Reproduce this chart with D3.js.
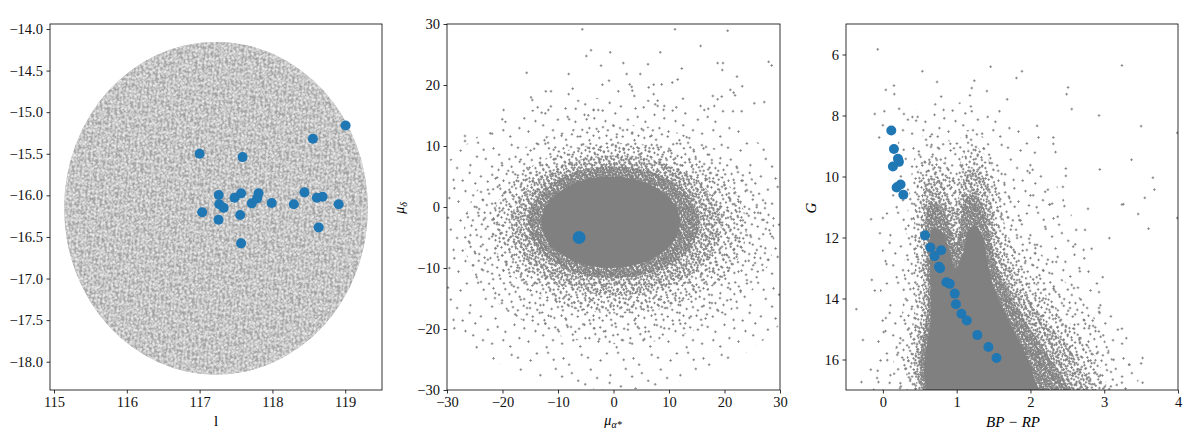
<!DOCTYPE html>
<html><head><meta charset="utf-8">
<script src="https://cdn.jsdelivr.net/npm/d3@7"></script>
<style>
body{margin:0;background:#fff}
svg text{font-family:"Liberation Serif","DejaVu Serif",serif;}
</style>
</head><body>
<svg id="c" width="1200" height="440"></svg>
<script>
// ---------------- DATA ----------------
// Panel 1: sky field (galactic l, b) and cluster members
const fieldCenterL = 117.225, fieldCenterB = -16.155;
const fieldHalfWidthL = 2.085, fieldHalfWidthB = 2.0;
const memberL = [117.00,117.59,119.005,118.556,117.035,117.263,117.27,117.33,117.26,117.48,117.57,117.557,117.717,117.81,117.79,117.99,118.294,118.44,118.61,118.688,118.91,118.635,117.57];
const memberB = [-15.50,-15.54,-15.16,-15.32,-16.204,-15.996,-16.108,-16.148,-16.293,-16.028,-15.976,-16.236,-16.096,-15.976,-16.036,-16.092,-16.108,-15.964,-16.028,-16.016,-16.108,-16.385,-16.577];
const lTicks = [115,116,117,118,119];
const bTicks = [-14.0,-14.5,-15.0,-15.5,-16.0,-16.5,-17.0,-17.5,-18.0];

// Panel 2: proper motions
const memberPmra = [-6.2];
const memberPmdec = [-5.0];
const pmOutlierRa = [-5.62,11.08,20.57,15.7,-4.05,-4.9,-0.58,8.43,-2.25,1.77,6.22,12.3,18.77,19.73,19.6,27.96,28.5,-15.64,-8.07,2.38,4.83,22.25,-2.0,-0.81,2.92,3.28,6.34,7.24,8.68,10.6,11.57,23.2,-12.2,-11.26,-8.07,-7.35,0.87,3.39,3.75,7.24,21.05,21.65,21.9,19.5,17.9,18.77,-14.86,-14.63,12.52,7.96,7.96,9.15,5.44,11.32,15.7,16.36,17.08,18.16,19.73,21.53,23.1,25.37,27.17,-19.8,-20.04,-13.66,-12.94,-11.74,-6.81,-3.57,-2.74,-4.54,-4.83,-8.0,-26.76,-26.76,-22.2,-24.6];
const pmOutlierDec = [29.13,29.13,28.9,26.4,25.7,24.75,25.36,25.36,23.17,23.6,23.4,22.7,23.6,23.6,22.46,23.8,23.2,22.0,21.8,21.8,21.8,21.37,20.05,20.7,20.1,19.7,19.6,20.05,20.1,20.4,20.9,19.8,18.97,18.97,18.5,19.4,18.97,19.07,18.2,18.5,19.2,18.74,18.3,18.1,18.2,17.66,17.98,17.54,17.75,17.43,16.56,16.56,16.34,16.34,16.56,15.9,16.1,16.56,15.7,15.7,15.7,17.0,17.2,15.9,14.38,16.34,15.46,15.9,16.1,15.9,15.9,15.03,14.38,14.38,11.64,10.82,12.08,8.25];
// density contours of the field-star cloud (ellipses), sparse -> solid
const pmLevelCx = [0, 1, 1, 0.5, 0, -0.5];
const pmLevelCy = [-6, -4.5, -3.5, -3, -2.5, -2.5];
const pmLevelRx = [36, 28, 23, 19, 15.5, 12.5];
const pmLevelRy = [24, 18, 14, 11.5, 9.2, 7.5];
const pmTicks = [-30,-20,-10,0,10,20,30];

// Panel 3: colour-magnitude diagram
const memberColor = [0.114,0.15,0.204,0.217,0.136,0.24,0.186,0.277,0.571,0.644,0.79,0.70,0.76,0.775,0.86,0.906,0.974,0.99,1.065,1.137,1.28,1.43,1.54];
const memberG = [8.49,9.1,9.42,9.52,9.67,10.26,10.36,10.6,11.93,12.33,12.42,12.61,12.96,13.01,13.47,13.52,13.84,14.19,14.5,14.72,15.2,15.59,15.95];
const cmdOutlierColor = [-0.07,0.535,0.734,1.46,1.885,1.81,3.24,1.24,1.205,0.04,0.15,0.155,0.79,1.18,1.41,1.685,2.51,2.49,2.56,-0.11,0.02,0.22,0.285,1.205,1.58,2.93,3.5,3.99,-0.05,0.0,0.4,0.45,2.09,2.11,2.31,2.31,2.34,2.06,3.37,2.94,3.66,3.68,3.55,3.26,2.48,2.48,2.44,2.2,2.26,2.0,2.03,1.96,3.24,3.46,3.6,3.07,3.99,2.78,2.98,3.24,3.3,3.52,3.5,3.34,3.52,3.24,2.74,2.62,2.83,2.58,2.67,2.93,2.93,2.93,2.59,2.8,2.85,2.32,2.35,2.3,2.09,2.06,1.85,2.2,2.26,2.46,2.37,1.98,-0.36,-0.27,-0.29,-0.15,-0.11,-0.16,0.0,-0.04,-0.07,-0.06,0.06,0.01,0.04,0.05];
const cmdOutlierG = [5.83,6.55,6.9,6.4,6.55,6.77,6.36,6.86,7.1,7.16,7.02,7.3,7.38,7.34,7.2,7.47,7.08,7.3,7.79,7.95,7.86,7.78,7.95,7.86,7.86,8.0,8.35,8.57,8.72,8.32,8.05,8.17,8.34,8.72,8.72,8.93,9.2,9.22,9.45,9.77,10.04,10.43,10.7,10.91,9.74,9.98,10.34,10.5,10.92,10.62,9.78,9.82,10.92,11.23,11.71,12.02,11.36,11.06,13.3,14.99,15.3,15.95,16.13,16.17,16.76,16.76,11.75,11.75,12.37,12.3,13.11,13.79,14.31,14.44,13.66,14.9,14.9,13.72,12.8,12.8,12.24,12.24,11.43,11.65,10.92,10.97,11.32,10.95,14.35,15.36,16.74,13.39,13.74,11.4,11.36,11.86,16.37,16.74,16.02,15.1,14.64,12.87];
// density contours of the field-star CMD ([BP-RP, G]), sparse -> solid
const cmdLevel0 = [[-0.1,17.1],[-0.05,14.5],[0.0,12],[0.15,9.5],[0.35,8.0],[0.7,7.6],[1.1,7.6],[1.5,8.0],[2.0,8.8],[2.4,10.5],[2.8,12.5],[3.2,14.5],[3.4,17.1]];
const cmdLevel1 = [[0.22,17.1],[0.26,14.5],[0.3,12.5],[0.36,10.5],[0.45,9.2],[0.6,8.5],[0.8,8.6],[1.0,9.0],[1.1,8.5],[1.3,8.6],[1.55,9.3],[1.75,10.5],[1.95,11.8],[2.3,13],[2.75,14.2],[3.0,15.3],[3.15,17.1]];
const cmdLevel2 = [[0.42,17.1],[0.44,14],[0.42,12],[0.45,10.5],[0.52,9.6],[0.7,9.3],[0.88,9.7],[1.0,10.0],[1.08,9.3],[1.22,9.0],[1.42,9.4],[1.56,10.4],[1.68,11.8],[1.9,12.9],[2.25,14.0],[2.6,15.0],[2.9,16.0],[3.0,17.1]];
const cmdLevel3 = [[0.53,17.1],[0.54,14],[0.52,12.2],[0.52,11.0],[0.58,10.2],[0.72,10.0],[0.85,10.4],[0.95,11.0],[1.02,10.7],[1.08,10.0],[1.2,9.7],[1.36,10.0],[1.48,11.0],[1.58,12.2],[1.78,13.3],[2.1,14.4],[2.45,15.4],[2.7,16.3],[2.85,17.1]];
const cmdLevel4 = [[0.6,17.1],[0.61,14],[0.59,12.3],[0.58,11.3],[0.65,10.8],[0.8,11.0],[0.92,11.7],[0.99,12.2],[1.05,11.6],[1.1,10.8],[1.22,10.6],[1.36,11.0],[1.45,11.9],[1.55,13.0],[1.75,14.0],[2.0,15.0],[2.25,15.9],[2.45,16.6],[2.55,17.1]];
const cmdLevel5 = [[0.64,17.1],[0.65,14.5],[0.64,13],[0.63,12.2],[0.68,11.7],[0.8,11.8],[0.9,12.4],[0.98,13.0],[1.08,12.6],[1.15,11.8],[1.25,11.6],[1.35,12.0],[1.42,12.8],[1.5,13.6],[1.62,14.3],[1.78,15.1],[1.95,15.9],[2.05,16.6],[2.1,17.1]];
const colorTicks = [0,1,2,3,4];
const gTicks = [6,8,10,12,14,16];

// ---------------- DRAWING ----------------
const svg = d3.select('#c');
const defs = svg.append('defs');
const GRAY = '#808080', BLUE = '#1f77b4';

// stipple texture (style only)
const tex = [[0.05,0.12],[0.31,0.07],[0.58,0.15],[0.83,0.04],[0.17,0.33],[0.44,0.28],[0.72,0.36],[0.94,0.27],[0.08,0.55],[0.36,0.49],[0.61,0.58],[0.87,0.52],[0.22,0.74],[0.49,0.69],[0.76,0.79],[0.97,0.71],[0.03,0.91],[0.29,0.95],[0.55,0.88],[0.81,0.96],[0.13,0.21],[0.67,0.05],[0.40,0.11],[0.91,0.14],[0.26,0.44],[0.53,0.40],[0.79,0.62],[0.11,0.67],[0.42,0.83],[0.65,0.73],[0.90,0.86],[0.19,0.86],[0.71,0.47],[0.03,0.38],[0.48,0.57],[0.35,0.64]];
function plus(x,y){return `M${x-1.3},${y}h2.6M${x},${y-1.3}v2.6`;}
const tileSizes = [70,45,30,20,13];
const tileOffsets = [[0,0],[13,7],[5,11],[3,2],[7,5]];
tileSizes.forEach((s,i)=>{
  const p = defs.append('pattern').attr('id','st'+i).attr('patternUnits','userSpaceOnUse')
    .attr('width',s).attr('height',s).attr('x',tileOffsets[i][0]).attr('y',tileOffsets[i][1]);
  p.append('path').attr('d',tex.map(d=>plus(d[0]*s,d[1]*s)).join(''))
    .attr('stroke',GRAY).attr('stroke-width',0.9).attr('fill','none');
});
// mottled texture for the dense sky field (style only)
function speckle(id, s, r, color, op, rot){
  const p = defs.append('pattern').attr('id',id).attr('patternUnits','userSpaceOnUse')
    .attr('width',s).attr('height',s).attr('patternTransform',`rotate(${rot})`);
  p.selectAll('circle').data(tex).join('circle')
    .attr('cx',d=>d[0]*s).attr('cy',d=>d[1]*s).attr('r',r).attr('fill',color).attr('fill-opacity',op);
}
speckle('skyLight', 17, 1.1, '#f0f0f0', 0.7, 31);
speckle('skyLight2', 29, 1.4, '#ffffff', 0.55, -58);
speckle('skyDark', 14, 0.9, '#858585', 0.55, 74);
speckle('skyDark2', 19, 1.1, '#909090', 0.45, -17);

function panel(id, x0, x1, y0, y1, xd, yd){
  const x = d3.scaleLinear().domain(xd).range([x0,x1]);
  const y = d3.scaleLinear().domain(yd).range([y1,y0]);
  defs.append('clipPath').attr('id','clip'+id).append('rect')
    .attr('x',x0).attr('y',y0).attr('width',x1-x0).attr('height',y1-y0);
  const g = svg.append('g');
  const plot = g.append('g').attr('clip-path',`url(#clip${id})`);
  return {x,y,g,plot,x0,x1,y0,y1};
}
function axes(P, xt, yt, xfmt, yfmt){
  const ax = P.g.append('g').attr('transform',`translate(0,${P.y1})`)
    .call(d3.axisBottom(P.x).tickValues(xt).tickFormat(xfmt).tickSize(3.5).tickPadding(3.5).tickSizeOuter(0));
  const ay = P.g.append('g').attr('transform',`translate(${P.x0},0)`)
    .call(d3.axisLeft(P.y).tickValues(yt).tickFormat(yfmt).tickSize(3.5).tickPadding(3.5).tickSizeOuter(0));
  [ax,ay].forEach(a=>{
    a.select('.domain').remove();
    a.selectAll('line').attr('stroke','#000').attr('stroke-width',0.8);
    a.selectAll('text').attr('font-size',14.5).attr('fill','#111')
      .attr('font-family','"Liberation Serif","DejaVu Serif",serif');
  });
  P.g.append('rect').attr('x',P.x0).attr('y',P.y0).attr('width',P.x1-P.x0).attr('height',P.y1-P.y0)
    .attr('fill','none').attr('stroke','#000').attr('stroke-width',0.8);
}
function fillFor(i,n){ return i===n-1 ? GRAY : `url(#st${i})`; }
function densityPolys(P, levels){
  const line = d3.line().x(d=>P.x(d[0])).y(d=>P.y(d[1])).curve(d3.curveCatmullRomClosed.alpha(0.5));
  levels.forEach((lv,i)=>{
    P.plot.append('path').attr('d',line(lv)).attr('fill', fillFor(i,levels.length));
  });
}
function densityEllipses(P, cx, cy, rx, ry){
  cx.forEach((c,i)=>{
    P.plot.append('ellipse')
      .attr('cx',P.x(c)).attr('cy',P.y(cy[i]))
      .attr('rx',P.x(c+rx[i])-P.x(c)).attr('ry',P.y(cy[i]-ry[i])-P.y(cy[i]))
      .attr('fill', fillFor(i,cx.length));
  });
}
function outliers(P, xs, ys){
  P.plot.append('path').attr('d', xs.map((v,i)=>plus(P.x(v),P.y(ys[i]))).join(''))
    .attr('stroke',GRAY).attr('stroke-width',0.9).attr('fill','none');
}

// ---- Panel 1
const P1 = panel(1, 50, 382, 24, 390, [114.945,119.505], [-18.34,-13.94]);
const fieldShape = sel => sel
  .attr('cx',P1.x(fieldCenterL)).attr('cy',P1.y(fieldCenterB))
  .attr('rx',P1.x(fieldCenterL+fieldHalfWidthL)-P1.x(fieldCenterL))
  .attr('ry',P1.y(fieldCenterB-fieldHalfWidthB)-P1.y(fieldCenterB));
['#b6b6b6','url(#skyDark)','url(#skyDark2)','url(#skyLight)','url(#skyLight2)'].forEach(fl=>{
  P1.plot.append('ellipse').call(fieldShape).attr('fill',fl);
});
P1.plot.selectAll('circle.m').data(memberL).join('circle').attr('class','m')
  .attr('cx',d=>P1.x(d)).attr('cy',(d,i)=>P1.y(memberB[i])).attr('r',5).attr('fill',BLUE);
axes(P1, lTicks, bTicks, d3.format('d'), d3.format('.1f'));
P1.g.append('text').attr('x',(P1.x0+P1.x1)/2).attr('y',426).attr('text-anchor','middle')
  .attr('font-size',15).text('l');

// ---- Panel 2
const P2 = panel(2, 447, 780, 24, 390, [-30,30], [-30,30]);
densityEllipses(P2, pmLevelCx, pmLevelCy, pmLevelRx, pmLevelRy);
outliers(P2, pmOutlierRa, pmOutlierDec);
P2.plot.selectAll('circle.m').data(memberPmra).join('circle').attr('class','m')
  .attr('cx',d=>P2.x(d)).attr('cy',(d,i)=>P2.y(memberPmdec[i])).attr('r',6.5).attr('fill',BLUE);
axes(P2, pmTicks, pmTicks, d3.format('d'), d3.format('d'));
{
  const t = P2.g.append('text').attr('x',613).attr('y',425).attr('text-anchor','middle').attr('font-size',14);
  t.append('tspan').attr('font-style','italic').text('μ');
  t.append('tspan').attr('font-size',10).attr('dy',3).attr('font-style','italic').text('α*');
  const t2 = P2.g.append('text').attr('transform','translate(404,208) rotate(-90)').attr('text-anchor','middle').attr('font-size',14);
  t2.append('tspan').attr('font-style','italic').text('μ');
  t2.append('tspan').attr('font-size',10).attr('dy',3).attr('font-style','italic').text('δ');
}

// ---- Panel 3
const P3 = panel(3, 846, 1178, 24, 390, [-0.5,4], [17,5]);
densityPolys(P3, [cmdLevel0,cmdLevel1,cmdLevel2,cmdLevel3,cmdLevel4,cmdLevel5]);
outliers(P3, cmdOutlierColor, cmdOutlierG);
P3.plot.selectAll('circle.m').data(memberColor).join('circle').attr('class','m')
  .attr('cx',d=>P3.x(d)).attr('cy',(d,i)=>P3.y(memberG[i])).attr('r',5).attr('fill',BLUE);
axes(P3, colorTicks, gTicks, d3.format('d'), d3.format('d'));
P3.g.append('text').attr('x',1013).attr('y',427).attr('text-anchor','middle')
  .attr('font-size',15).attr('font-style','italic').text('BP − RP');
P3.g.append('text').attr('transform','translate(816,208) rotate(-90)').attr('text-anchor','middle')
  .attr('font-size',15).attr('font-style','italic').text('G');
</script>
</body></html>
